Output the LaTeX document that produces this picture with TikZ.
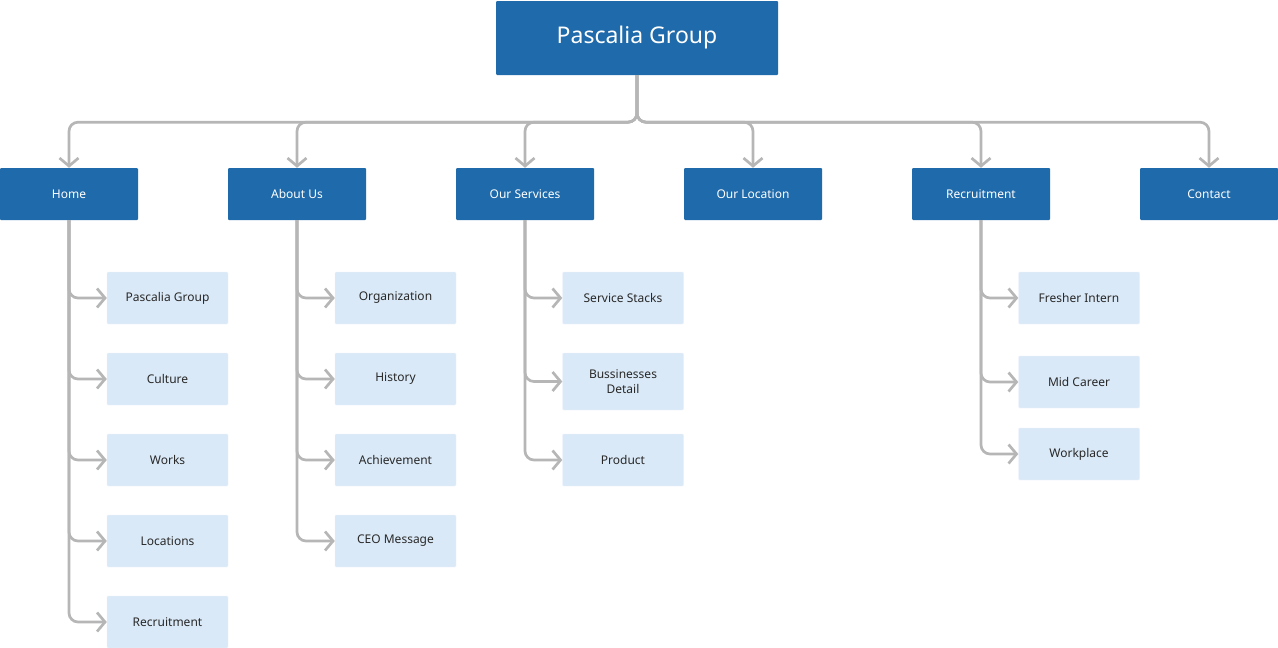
\documentclass[tikz,border=0pt]{standalone}
\usepackage{fontspec}
\setmainfont{Noto Sans}
\usepackage{tikz}
\usetikzlibrary{arrows.meta,positioning,calc}
\definecolor{topblue}{RGB}{30,106,170}
\definecolor{subblue}{RGB}{218,233,247}
\definecolor{linkgray}{RGB}{182,182,182}
\definecolor{textdark}{RGB}{40,40,40}
\tikzset{box/.style={rectangle,rounded corners=1pt,align=center,inner sep=2pt,font=\fontsize{12}{15}\selectfont},
  head/.style={box,fill=topblue,text=white,minimum width=138pt,minimum height=52pt},
  leaf/.style={box,fill=subblue,draw=subblue!80!blue!20,text=textdark,minimum width=121pt,minimum height=52pt},
  arr/.style={-{Straight Barb[length=8pt,width=19pt]},line width=2.7pt,draw=linkgray,rounded corners=9pt}}

\begin{document}
\begin{tikzpicture}[x=1pt,y=-1pt]
\useasboundingbox (0,0) rectangle (1278,648);
\node[box,fill=topblue,text=white,minimum width=282pt,minimum height=74pt,font=\fontsize{23}{27}\selectfont] (root) at (637,38){Pascalia Group};
% first level
\node[head] (home) at (69,194){Home};
\node[head] (about) at (297,194){About Us};
\node[head] (serv) at (525,194){Our Services};
\node[head] (loc) at (753,194){Our Location};
\node[head] (recr) at (981,194){Recruitment};
\node[head] (cont) at (1209,194){Contact};
% second level
\node[leaf] (h1) at (167.5,298){Pascalia Group};
\node[leaf] (h2) at (167.5,379){Culture};
\node[leaf] (h3) at (167.5,460){Works};
\node[leaf] (h4) at (167.5,541){Locations};
\node[leaf] (h5) at (167.5,622){Recruitment};
\node[leaf] (a1) at (395.5,298){Organization};
\node[leaf] (a2) at (395.5,379){History};
\node[leaf] (a3) at (395.5,460){Achievement};
\node[leaf] (a4) at (395.5,541){CEO Message};
\node[leaf] (s1) at (623,298){Service Stacks};
\node[leaf,minimum height=57pt] (s2) at (623,381.5){Bussinesses\\Detail};
\node[leaf] (s3) at (623,460){Product};
\node[leaf] (r1) at (1079,298){Fresher Intern};
\node[leaf] (r2) at (1079,382){Mid Career};
\node[leaf] (r3) at (1079,454){Workplace};
% connectors
\foreach \q in {home,about,serv,loc,recr,cont}{\draw[arr] (root.south) -- ++(0,47) -| (\q.north);}
\foreach \p/\q in {home/h1,home/h2,home/h3,home/h4,home/h5,about/a1,about/a2,about/a3,about/a4,serv/s1,serv/s2,serv/s3,recr/r1,recr/r2,recr/r3}{\draw[arr] (\p.south) |- (\q.west);}
\end{tikzpicture}
\end{document}
